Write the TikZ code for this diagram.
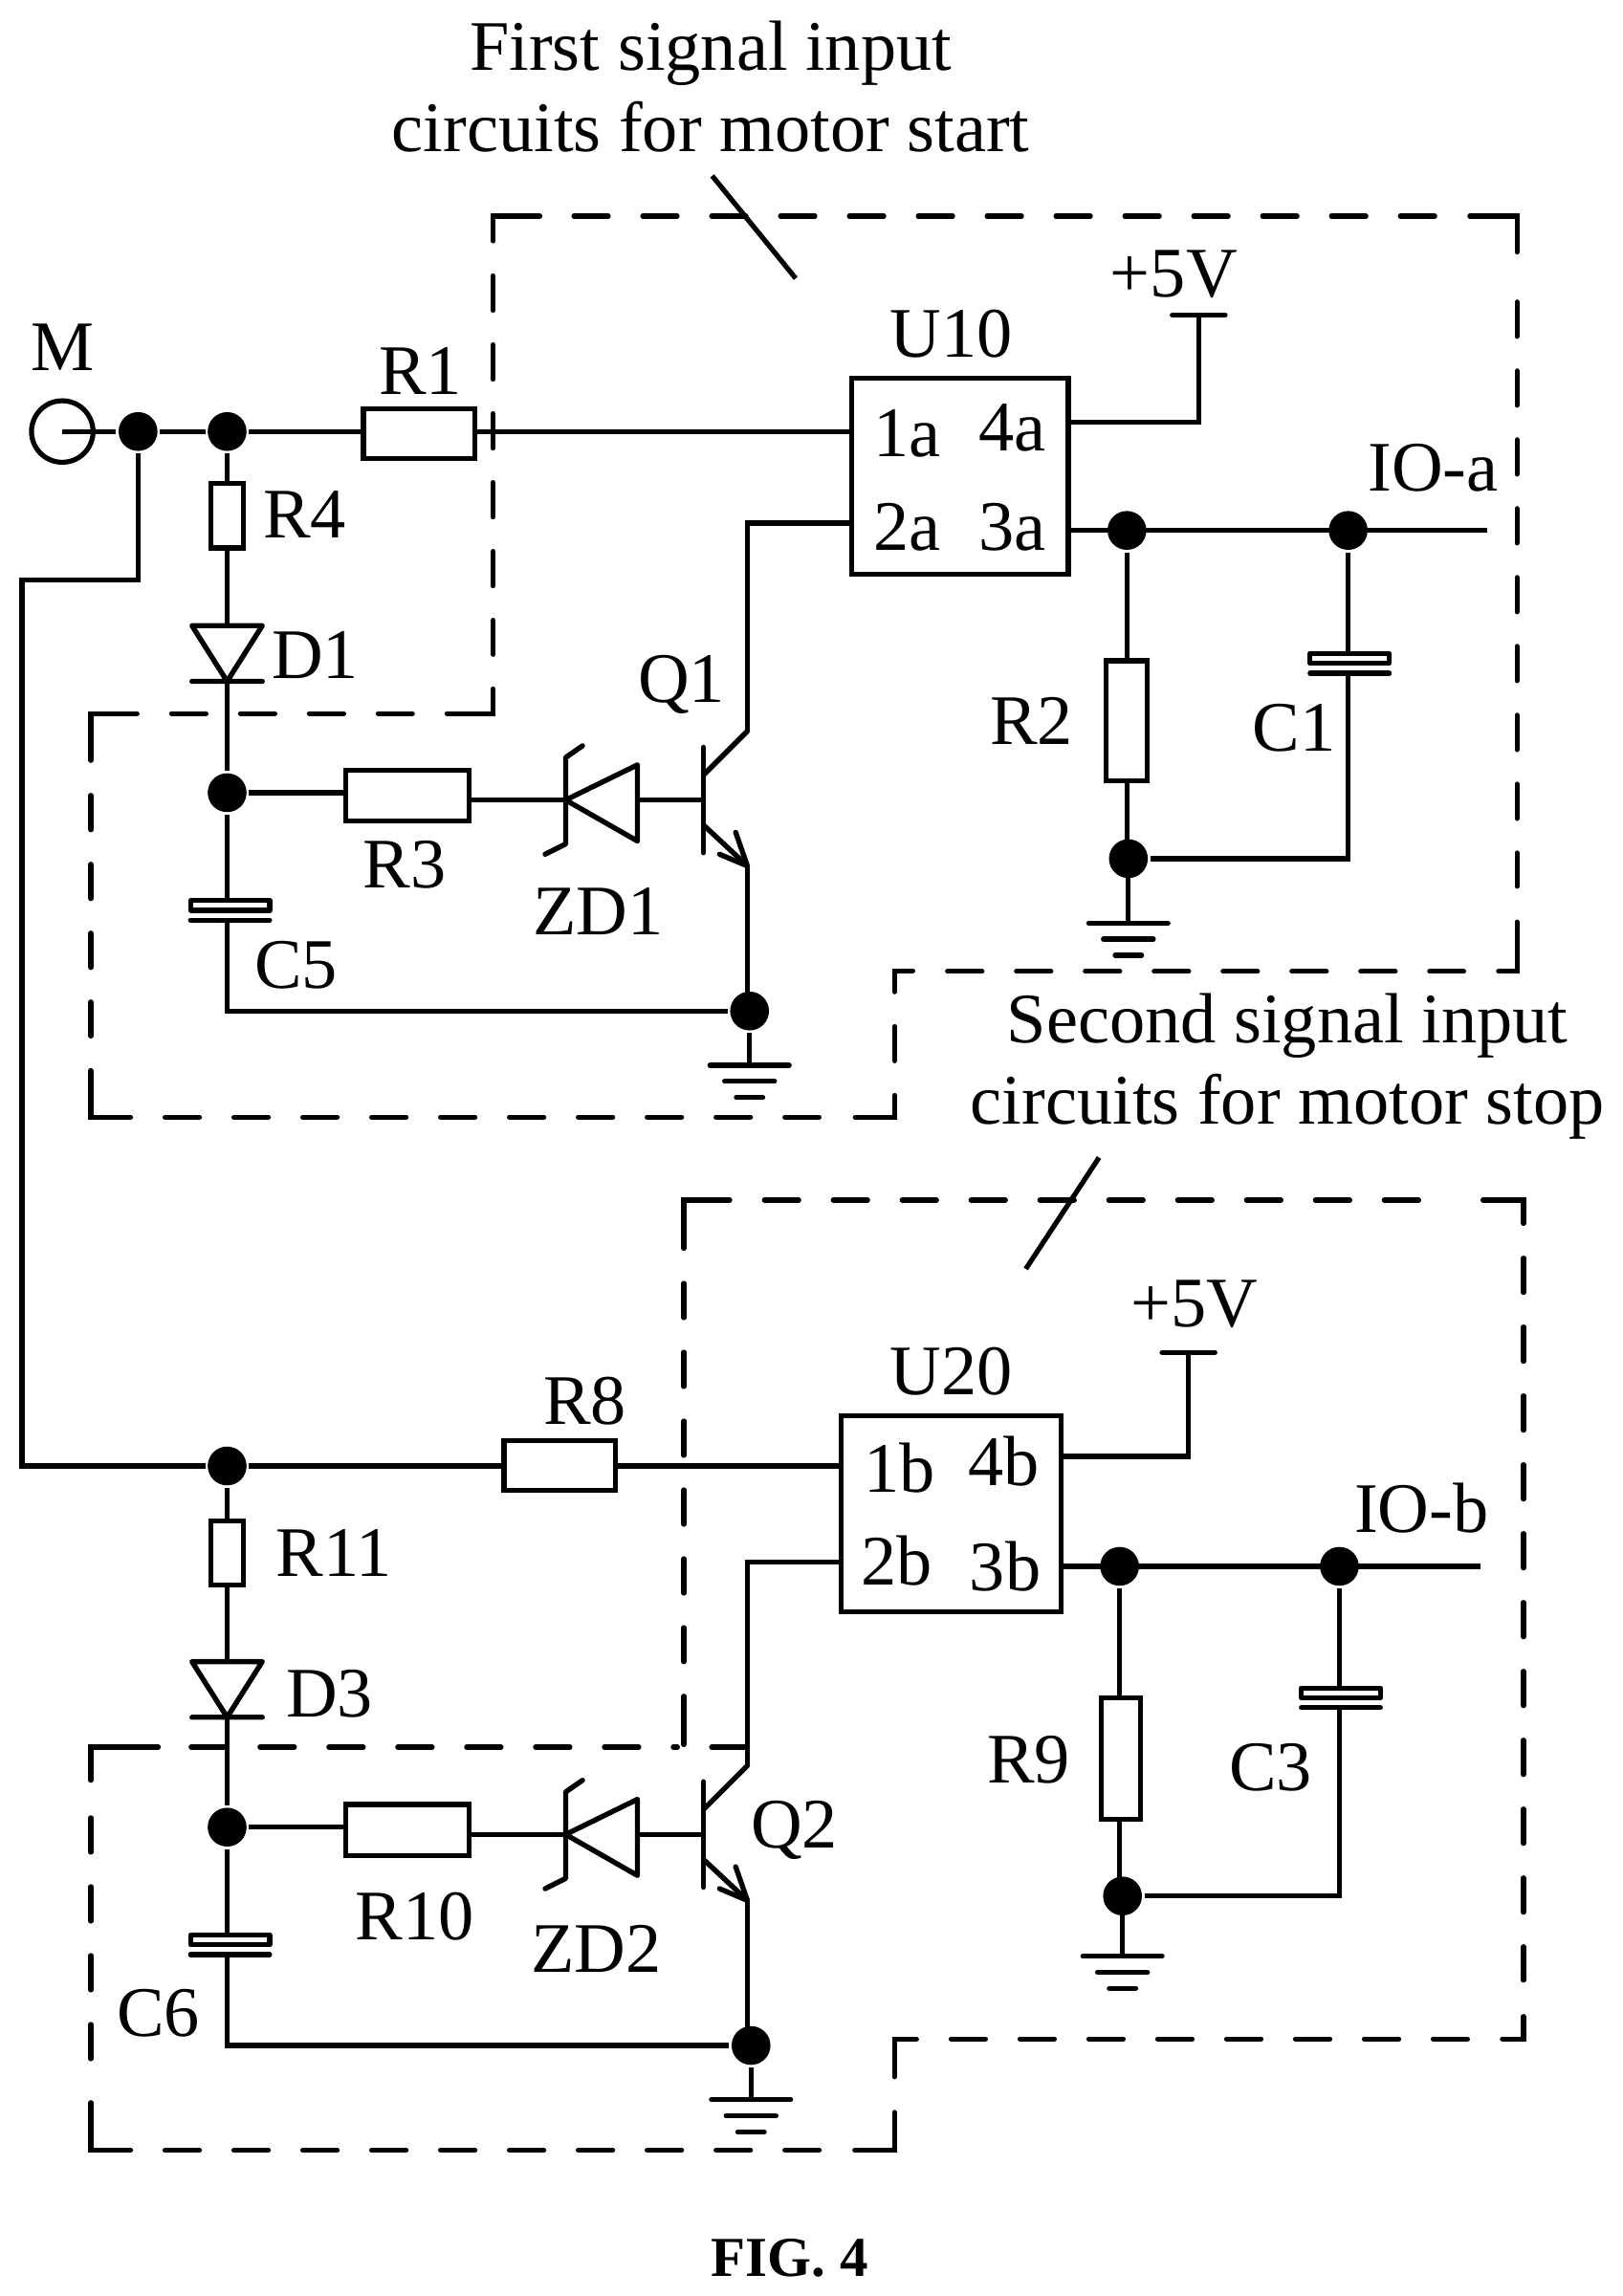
\documentclass[tikz,border=0pt]{standalone}
\usepackage{fontspec}
\setmainfont{Liberation Serif}
\newcommand{\hrun}[3]{\draw[bound] (#2+1.6,#1)--(#3-1.6,#1);}
\newcommand{\vrun}[3]{\draw[bound] (#1,#2+1.6)--(#1,#3-1.6);}
\begin{document}
\begin{tikzpicture}[x=1pt,y=-1pt,
  every path/.style={line width=3.4pt,line join=miter},
  wire/.style={line width=3.4pt},
  res/.style={draw,line width=3.4pt,inner sep=0pt,fill=white},
  dot/.style={circle,fill=black,draw=none,minimum size=26.5pt,inner sep=0pt},
  term/.style={circle,draw,line width=3.4pt,minimum size=42pt,inner sep=0pt},
  chip/.style={draw,line width=3.4pt,inner sep=0pt},
  bound/.style={line width=3.4pt,dash pattern=on 23.5pt off 23.5pt,line cap=round},
  arm/.style={line width=3.4pt,line cap=round,line join=miter},
  lab/.style={inner sep=0pt,font=\fontsize{48.5}{53.5}\selectfont,align=center},
  plate/.style={line width=3.4pt,line cap=round},
  sym/.style={line width=3.5pt,line cap=round,line join=round}]
\useasboundingbox (0,0) rectangle (1107,1567);
% first dashed boundary
\draw[arm] (336.4,164.4)--(336.4,147.5)--(368.4,147.5);
\hrun{147.5}{390}{1000}
\draw[arm] (1003,147.5)--(1035.2,147.5)--(1035.2,172);
\vrun{1035.2}{204.5}{606.5}
\draw[arm] (1035.2,629.3)--(1035.2,663)--(1022.6,663);
\hrun{663}{645}{1000.4}
\draw[arm] (622.9,662.5)--(610.5,662.5)--(610.5,676.9);
\vrun{610.5}{699}{725.6}
\draw[arm] (610.5,747.6)--(610.5,762.5)--(583.6,762.5);
\hrun{762.5}{111}{560.5}
\draw[arm] (89.1,762.5)--(62,762.5)--(62,730.6);
\vrun{62}{541.2}{708.7}
\draw[arm] (62,519)--(62,487)--(93.5,487);
\hrun{487}{115.5}{283}
\draw[arm] (305.1,487)--(336.4,487)--(336.4,470.2);
\vrun{336.4}{186.7}{448.2}
% second dashed boundary
\draw[arm] (466.7,852)--(466.7,819)--(498,819);
\hrun{819}{520}{990}
\draw[arm] (1012,819)--(1039.6,819)--(1039.6,835);
\vrun{1039.6}{857}{1353}
\draw[arm] (1039.6,1376.2)--(1039.6,1391.5)--(1025.2,1391.5);
\hrun{1391.5}{647.4}{1003}
\draw[arm] (625.4,1391.5)--(610.3,1391.5)--(610.3,1417.4);
\draw[arm] (610.3,1441.6)--(610.3,1467.5)--(583.3,1467.5);
\hrun{1467.5}{111}{560.6}
\draw[arm] (89.1,1467.5)--(62,1467.5)--(62,1435);
\vrun{62}{1239}{1415}
\draw[arm] (62,1215)--(62,1192.3)--(108,1192.3);
\hrun{1192.3}{128.8}{463.9}
\draw[arm] (485.6,1192.3)--(510,1192.3);
\vrun{466.7}{874.2}{1135.7}
\draw[arm] (466.7,1157.6)--(466.7,1190.7);
% callouts
\coordinate (t1a) at (486,120); \coordinate (t1b) at (543,190);
\coordinate (t2a) at (750,790); \coordinate (t2b) at (700,866);
\draw[wire] (t1a)--(t1b);
\draw[wire] (t2a)--(t2b);
% main nodes
\node[term] (M) at (42.5,294.5) {};
\node[dot] (j1) at (94.2,294.5) {};
\node[dot] (j2) at (155,294.5) {};
\node[chip,minimum width=148pt,minimum height=134pt] (U10) at (655,325) {};
\node[chip,minimum width=150pt,minimum height=134pt] (U20) at (649,1033) {};
\coordinate (p1a) at (581,294.5); \coordinate (p2a) at (581,357);
\coordinate (p4a) at (729,288); \coordinate (p3a) at (729,362);
\coordinate (p1b) at (574,1000.5); \coordinate (p2b) at (574,1066);
\coordinate (p4b) at (724,994); \coordinate (p3b) at (724,1069);
\node[dot] (j3) at (155,541) {};
\node[dot] (j4) at (511.5,690) {};
\node[dot] (j5) at (769,362) {};
\node[dot] (j6) at (920,362) {};
\node[dot] (j7) at (770,586) {};
\node[dot] (j8) at (155,1000.5) {};
\node[dot] (j9) at (155,1247) {};
\node[dot] (j10) at (512.5,1396) {};
\node[dot] (j11) at (764,1069) {};
\node[dot] (j12) at (914,1069) {};
\node[dot] (j13) at (766,1294) {};
\coordinate (ioa) at (1015,362); \coordinate (iob) at (1010,1069);
% wires behind resistors
\draw[wire] (M.center)--(j1)--(j2)--(p1a);
\draw[wire] (j1)--(94.2,396)--(15,396)--(15,1000.5)--(j8)--(p1b);
\draw[wire] (j2)--(155,427);
\draw[wire] (155,465)--(j3);
\draw[wire] (j3)--(155,613);
\draw[wire] (155,628)--(155,690)--(j4);
\draw[wire] (j3)--(236,541);
\draw[wire] (320,546)--(386,546);
\draw[wire] (435,546)--(480,546);
\draw[wire] (p2a)--(510,357)--(510,499);
\draw[wire] (510,591)--(510,690);
\draw[wire] (j4)--(511.5,727);
\draw[wire] (j8)--(155,1134);
\draw[wire] (155,1172)--(j9);
\draw[wire] (j9)--(155,1319);
\draw[wire] (155,1333)--(155,1396)--(j10);
\draw[wire] (j9)--(236,1247);
\draw[wire] (320,1252)--(386,1252);
\draw[wire] (435,1252)--(480,1252);
\draw[wire] (p2b)--(510,1066)--(510,1205);
\draw[wire] (510,1297)--(510,1396);
\draw[wire] (j10)--(512.5,1433);
\draw[wire] (p4a)--(818,288)--(818,215);
\draw[wire] (p3a)--(ioa);
\draw[wire] (j5)--(769,586);
\draw[wire] (j6)--(920,446);
\draw[wire] (920,459)--(920,586)--(j7);
\draw[wire] (770,586)--(770,630);
\draw[wire] (p4b)--(811,994)--(811,923);
\draw[wire] (p3b)--(iob);
\draw[wire] (j11)--(764,1294);
\draw[wire] (j12)--(914,1152);
\draw[wire] (914,1165)--(914,1294)--(j13);
\draw[wire] (766,1294)--(766,1335);
% resistors
\node[res,minimum width=76pt,minimum height=34pt] (R1) at (286,296) {};
\node[res,minimum width=22pt,minimum height=44pt] (R4) at (155,352) {};
\node[res,minimum width=84pt,minimum height=35pt] (R3) at (278,543) {};
\node[res,minimum width=28pt,minimum height=82pt] (R2) at (769,492) {};
\node[res,minimum width=76pt,minimum height=34pt] (R8) at (382,1000) {};
\node[res,minimum width=22pt,minimum height=44pt] (R11) at (155,1060) {};
\node[res,minimum width=84pt,minimum height=35pt] (R10) at (278,1249) {};
\node[res,minimum width=27pt,minimum height=83pt] (R9) at (765,1200) {};
% diodes
\draw[sym] (131,427)--(179,427)--(155,465)--cycle (131,465)--(179,465);
\draw[sym] (131,1134)--(179,1134)--(155,1172)--cycle (131,1172)--(179,1172);
% Zener and transistor groups
\foreach \dy in {0,706}{
\begin{scope}[yshift=-\dy pt]
 \draw[sym] (386,546)--(435,522)--(435,574)--cycle;
 \draw[sym] (397.5,509)--(386,517)--(386,576)--(372,583);
 \draw[sym] (480,510)--(480,582);
 \draw[sym] (480,529)--(510,499);
 \draw[sym] (480,563)--(510,591);
 \draw[sym] (491,583)--(510,591)--(502,568);
\end{scope}}
% capacitors
\foreach \xa/\xb/\yy in {130/184/614.5, 130/184/1320.5, 894/948/446, 888/942/1152}{
 \draw[plate,line join=round,fill=white] (\xa,\yy) rectangle (\xb,\yy+6.8);
 \draw[plate] (\xa,\yy+13.5)--(\xb,\yy+13.5);
}
% +5V bars
\draw[sym] (800,215)--(836,215);
\draw[sym] (793,923)--(829,923);
% grounds
\foreach \x/\y in {511.5/727,512.5/1433,770/630,766/1335}{
 \draw[sym] (\x-27,\y)--(\x+27,\y) (\x-17,\y+11)--(\x+17,\y+11) (\x-9,\y+22)--(\x+9,\y+22);
}
% labels
\node[lab] (tA) at (485,59) {First signal input\\[2pt]circuits for motor start};
\node[lab] (tB) at (878.5,728) {Second signal input\\[2pt]circuits for motor stop};
\node[lab] (lM) at (43,237) {M};
\node[lab] (lR1) at (287,253) {R1};
\node[lab] (lR4) at (208,351) {R4};
\node[lab] (lD1) at (215,447) {D1};
\node[lab] (lU10) at (649,228) {U10};
\node[lab] (l1a) at (619,296) {1a};
\node[lab] (l2a) at (619,360) {2a};
\node[lab] (l4a) at (691,292) {4a};
\node[lab] (l3a) at (691,360) {3a};
\node[lab] (l5a) at (801,187) {+5V};
\node[lab] (lIOa) at (978,319) {IO-a};
\node[lab] (lQ1) at (465,467) {Q1};
\node[lab] (lR2) at (704,492) {R2};
\node[lab] (lC1) at (883,497) {C1};
\node[lab] (lR3) at (276,590) {R3};
\node[lab] (lZD1) at (408,622) {ZD1};
\node[lab] (lC5) at (202,659) {C5};
\node[lab] (lR8) at (399,956) {R8};
\node[lab] (lR11) at (228,1060) {R11};
\node[lab] (lD3) at (225,1156) {D3};
\node[lab] (lU20) at (649,936) {U20};
\node[lab] (l1b) at (614,1002) {1b};
\node[lab] (l2b) at (612,1065) {2b};
\node[lab] (l4b) at (685,997) {4b};
\node[lab] (l3b) at (686,1069) {3b};
\node[lab] (l5b) at (815,890) {+5V};
\node[lab] (lIOb) at (970,1029) {IO-b};
\node[lab] (lQ2) at (542,1249) {Q2};
\node[lab] (lR9) at (702,1201) {R9};
\node[lab] (lC3) at (867,1206) {C3};
\node[lab] (lR10) at (283,1308) {R10};
\node[lab] (lZD2) at (407,1330) {ZD2};
\node[lab] (lC6) at (108,1374) {C6};
\node[lab,font=\fontsize{38.5}{42}\selectfont\bfseries] (fig) at (539,1541) {FIG. 4};
\end{tikzpicture}
\end{document}
